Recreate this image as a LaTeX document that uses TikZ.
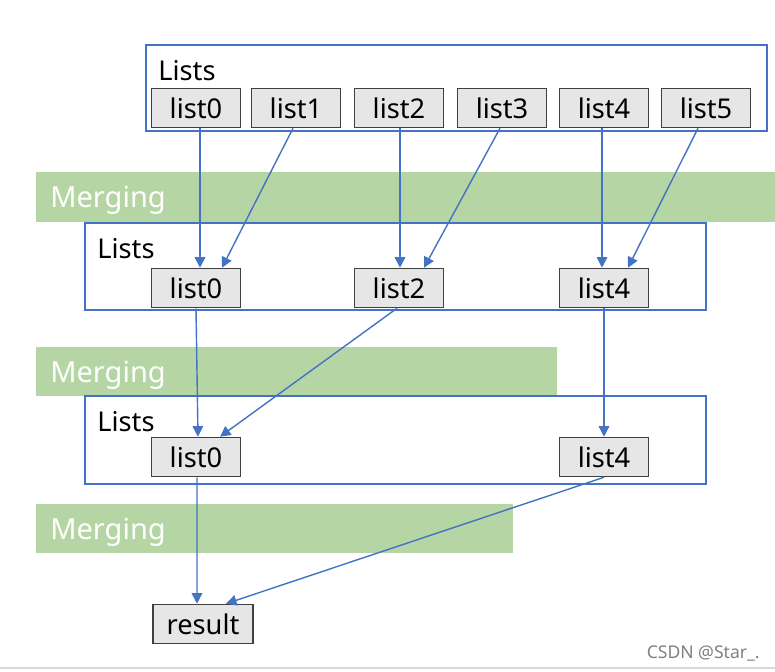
\documentclass[tikz,border=0pt]{standalone}
\usepackage{fontspec}
\setmainfont{Noto Sans}
\usetikzlibrary{arrows.meta,positioning}
\definecolor{frameblue}{RGB}{68,114,196}
\definecolor{boxgray}{RGB}{231,230,230}
\definecolor{boxline}{RGB}{64,64,64}
\definecolor{bandgreen}{RGB}{181,214,164}
\tikzset{
  >={Triangle[length=6pt,width=6pt]},
  frame/.style={draw=frameblue, line width=0.8pt},
  band/.style={fill=bandgreen, draw=none},
  listbox/.style={draw=boxline, fill=boxgray, line width=0.9pt,
    minimum width=1.78cm, minimum height=0.78cm, inner sep=0pt,
    font=\fontsize{15.5}{18}\selectfont},
  flow/.style={->, draw=frameblue, line width=0.8pt},
  tag/.style={anchor=west, inner sep=0pt, font=\fontsize{15.5}{18}\selectfont},
  bandtag/.style={tag, text=white, font=\fontsize{16.5}{19}\selectfont}
}
\begin{document}
\begin{tikzpicture}[x=0.02cm, y=-0.02cm]
  \useasboundingbox (0,0) rectangle (775,672);

  % green merging bands
  \fill[band] (36,172) rectangle (775,222);
  \fill[band] (36,347) rectangle (557,396);
  \fill[band] (36,504) rectangle (513,553);
  \node[bandtag] (merge1) at (50,200) {Merging};
  \node[bandtag] (merge2) at (50,375) {Merging};
  \node[bandtag] (merge3) at (50,532) {Merging};

  % level frames
  \draw[frame] (146,45) rectangle (767,131);
  \draw[frame] (85,223) rectangle (706,310);
  \draw[frame] (85,396) rectangle (706,484);
  \node[tag] (lists1) at (158,71) {Lists};
  \node[tag] (lists2) at (97,249) {Lists};
  \node[tag] (lists3) at (97,422) {Lists};

  % first level
  \node[listbox] (a0) at (196,108) {list0};
  \node[listbox] (a1) at (296,108) {list1};
  \node[listbox] (a2) at (399,108) {list2};
  \node[listbox] (a3) at (502,108) {list3};
  \node[listbox] (a4) at (604,108) {list4};
  \node[listbox] (a5) at (706,108) {list5};

  % second level
  \node[listbox] (b0) at (196,288) {list0};
  \node[listbox] (b2) at (399,288) {list2};
  \node[listbox] (b4) at (604,288) {list4};

  % third level
  \node[listbox] (c0) at (196,457) {list0};
  \node[listbox] (c4) at (604,457) {list4};

  \node[listbox, minimum width=2cm] (res) at (203,624) {result};

  \draw[flow] ([xshift=0.08cm]a0.south) -- ([xshift=0.08cm]b0.north);
  \draw[flow] ([xshift=-0.06cm]a1.south) -- ([xshift=0.52cm]b0.north);
  \draw[flow] ([xshift=0.02cm]a2.south) -- ([xshift=0.02cm]b2.north);
  \draw[flow] ([xshift=-0.04cm]a3.south) -- ([xshift=0.5cm]b2.north);
  \draw[flow] ([xshift=-0.04cm]a4.south) -- ([xshift=-0.04cm]b4.north);
  \draw[flow] ([xshift=-0.16cm]a5.south) -- ([xshift=0.48cm]b4.north);

  \draw[flow] (b0.south) -- ([xshift=0.04cm]c0.north);
  \draw[flow] ([xshift=-0.04cm]b2.south) -- ([xshift=0.48cm]c0.north);
  \draw[flow] (b4.south) -- (c4.north);

  \draw[flow] ([xshift=0.02cm]c0.south) -- ([xshift=-0.12cm]res.north);
  \draw[flow] (c4.south) -- ([xshift=0.46cm]res.north);

  \node[anchor=east, inner sep=0pt, text=gray, font=\fontsize{10}{12}\selectfont]
    (mark) at (760,653) {CSDN @Star\_.};
  \draw[gray!30, line width=0.6pt] (0,668) -- (775,668);
\end{tikzpicture}
\end{document}
